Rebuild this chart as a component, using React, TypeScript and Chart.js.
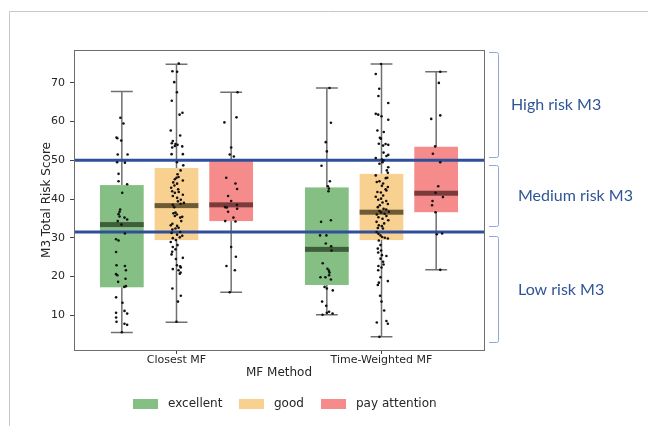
import { useEffect, useRef } from 'react';
import { Chart, registerables } from 'chart.js';

Chart.register(...registerables);

const categories = ['Closest MF', 'Time-Weighted MF'];
const hues = ['excellent', 'good', 'pay attention'];
const boxColors = ['#86bf84', '#f8d08f', '#f58b8b'];
const medianColors = ['#3e5d3b', '#6e5b36', '#7b3b3b'];

// per category: [excellent, good, pay attention]
const whiskerLow = [[5.5, 8.2, 15.9], [10.1, 4.4, 21.7]];
const q1Values = [[17.2, 29.4, 34.3], [17.8, 29.4, 36.6]];
const medianValues = [[33.4, 38.3, 38.5], [27.0, 36.6, 41.5]];
const q3Values = [[43.6, 48.0, 49.8], [43.0, 46.5, 53.5]];
const whiskerHigh = [[67.8, 74.8, 67.6], [68.7, 74.9, 72.9]];

const thresholds = [50, 31.5];
const riskLabels = ['High risk M3', 'Medium risk M3', 'Low risk M3'];
const riskRanges = [[78.1, 50.8], [48.9, 33.0], [30.4, 3.1]];

const yTicks = [10, 20, 30, 40, 50, 60, 70];

// [score, jitter]
const closestExcellent = [[61.0,-0.007],[59.5,0.008],[55.9,-0.026],[55.7,-0.022],[55.1,-0.003],[51.5,-0.02],[51.5,0.028],[49.5,-0.023],[49.4,0.015],[46.5,-0.016],[44.6,-0.016],[43.8,0.026],[41.6,0.002],[37.3,-0.008],[36.7,-0.011],[36.1,-0.016],[35.5,-0.011],[35.2,0.013],[34.7,0.026],[34.3,-0.02],[33.4,-0.002],[31.1,0.015],[29.6,-0.028],[29.3,-0.016],[26.3,-0.028],[22.9,-0.026],[22.7,0.015],[21.6,0.02],[20.6,-0.028],[20.3,-0.022],[19.4,0.018],[18.6,-0.018],[17.5,0.02],[17.3,0.012],[14.6,-0.028],[13.2,0.003],[11.1,0.013],[10.6,-0.028],[10.4,0.026],[9.4,-0.028],[8.3,-0.026],[7.8,0.013],[7.5,0.026],[5.6,0.0]];
const closestGood = [[75.0,0.011],[73.0,-0.020],[72.9,0.003],[70.2,-0.011],[67.6,0.002],[65.4,-0.023],[62.3,0.029],[61.8,0.015],[57.7,-0.028],[56.4,0.018],[54.96,-0.018],[54.4,-0.023],[54.2,-0.005],[54.0,0.005],[53.7,-0.008],[53.6,0.028],[53.3,-0.021],[51.6,-0.024],[51.6,0.031],[49.5,0.002],[48.7,0.033],[47.4,0.020],[46.4,0.005],[45.7,0.010],[45.5,0],[45.1,-0.008],[44.8,0.031],[44.3,-0.016],[43.97,0.003],[43.5,-0.010],[42.9,-0.026],[42.5,0.008],[42.0,-0.021],[41.8,0.011],[41.6,-0.008],[41.1,0.031],[40.8,-0.018],[40.3,0.003],[39.8,0.021],[39.4,0.007],[39.0,0.036],[38.8,0.020],[38.5,-0.018],[37.9,-0.011],[36.5,-0.005],[36.3,-0.015],[36.0,0.002],[35.6,-0.008],[35.4,0.028],[35.2,0.018],[34.3,0.023],[33.6,-0.020],[33.2,-0.028],[33.06,0.003],[32.6,0.010],[32.4,-0.005],[32.1,-0.020],[31.5,0.018],[31.25,-0.024],[30.8,0.003],[30.5,0.028],[30.1,0.016],[29.9,-0.018],[29.4,-0.003],[28.9,-0.028],[28.1,0.005],[27.6,-0.018],[27.0,-0.005],[26.4,-0.021],[25.7,-0.024],[24.8,0.031],[24.5,-0.003],[22.9,0.002],[22.6,0.018],[22.3,0.021],[21.9,-0.018],[21.6,0.010],[21.0,0.020],[20.7,0.016],[16.9,-0.020],[15.0,0.021],[13.5,0.007],[8.3,0.0]];
const closestAttention = [[67.6,0.031],[61.1,0.026],[59.8,-0.033],[53.3,0],[51.5,-0.007],[51.0,0.013],[45.5,-0.024],[44.0,0.021],[42.6,0.029],[40.8,-0.015],[39.5,0],[38.5,0.028],[37.9,-0.029],[37.8,-0.021],[37.5,0.029],[36.7,-0.015],[35.2,0.011],[34.3,-0.029],[34.2,0.021],[27.6,0],[25.1,0.023],[22.7,-0.023],[21.6,0.018],[15.9,-0.007]];
const weightedExcellent = [[68.7,0.013],[59.7,0.020],[54.7,-0.005],[52.3,0],[48.6,-0.026],[44.6,0.015],[43.3,0.005],[42.7,0.010],[42.0,0.008],[34.5,0.020],[34.1,-0.028],[30.6,-0.033],[30.6,-0.002],[28.5,-0.005],[27.8,0.021],[26.7,0.023],[23.4,-0.020],[22.0,0.003],[21.5,0.010],[21.0,0.013],[20.3,0.011],[19.8,-0.031],[19.8,-0.007],[19.2,0.020],[17.3,-0.011],[16.9,0],[16.4,0.029],[13.5,-0.023],[12.4,-0.003],[10.9,0.011],[10.6,0],[10.4,0.028],[10.1,-0.021]];
const weightedGood = [[74.9,-0.002],[72.3,-0.028],[68.5,-0.011],[66.6,-0.015],[64.8,0.033],[62.0,-0.028],[61.8,-0.016],[61.4,0],[60.5,0.033],[57.7,-0.020],[57.3,0.011],[55.8,-0.008],[55.6,-0.003],[54.3,-0.013],[54.2,0.020],[54.0,0.033],[53.8,0.008],[52.0,0.010],[51.4,0.033],[51.1,0.024],[50.6,-0.028],[50.2,0.002],[50.0,0.010],[49.5,0.005],[49.1,-0.010],[48.2,0.033],[47.4,0.026],[46.8,0.031],[46.1,-0.028],[45.5,0.028],[45.4,0.021],[44.6,-0.010],[44.4,-0.023],[44.0,0.008],[43.4,0.002],[43.1,0.031],[42.5,0.020],[42.2,0.024],[41.8,-0.020],[41.7,-0.003],[40.9,0.008],[40.6,-0.028],[40.1,-0.002],[39.8,-0.016],[39.5,0.023],[39.1,0.005],[38.7,0.031],[38.4,-0.008],[37.9,-0.018],[37.5,0.010],[37.3,0.023],[36.9,-0.010],[36.7,0.036],[36.5,-0.002],[36.2,0.015],[36.0,-0.023],[35.6,0.024],[35.3,-0.015],[34.9,0.005],[34.5,0.033],[34.1,-0.024],[33.7,0.013],[33.2,-0.013],[33.0,0.002],[32.5,-0.018],[32.4,0.007],[31.5,-0.024],[31.0,-0.015],[30.6,-0.005],[30.2,0.003],[30.0,0.016],[29.8,0.031],[29.3,-0.013],[28.1,-0.005],[27.2,-0.018],[26.7,-0.002],[26.2,-0.016],[25.5,0.002],[25.3,0.024],[24.6,-0.005],[23.8,0.008],[23.1,0.010],[22.7,-0.015],[22.3,0],[21.6,-0.016],[19.8,-0.005],[18.8,0.031],[18.4,-0.013],[17.8,-0.018],[15.0,-0.007],[13.5,0],[11.2,0.013],[8.5,0.024],[8.1,-0.023],[7.8,0.031],[4.4,-0.010]];
const weightedAttention = [[72.9,0.020],[70.0,0.013],[61.6,0.020],[60.7,-0.024],[53.6,-0.005],[51.7,-0.016],[49.5,0.020],[43.3,0.010],[41.6,-0.003],[40.5,0.033],[39.5,-0.018],[38.4,-0.020],[36.6,-0.003],[31.1,0.029],[30.9,0.003],[21.7,0.020]];

const pointGroups = [
  [closestExcellent, closestGood, closestAttention],
  [weightedExcellent, weightedGood, weightedAttention],
];

const DODGE = 0.8 / hues.length;
const hueCenter = (cat: number, hue: number) => cat + (hue - (hues.length - 1) / 2) * DODGE;

const FONT = "'DejaVu Sans', sans-serif";
const TEXT = '#262626';

const boxPlugin = {
  id: 'boxes',
  beforeDatasetsDraw(chart: any) {
    const { ctx, scales, chartArea } = chart;
    const x = scales.x;
    const y = scales.y;
    ctx.save();
    ctx.beginPath();
    ctx.rect(chartArea.left, chartArea.top, chartArea.right - chartArea.left, chartArea.bottom - chartArea.top);
    ctx.clip();
    categories.forEach((_, c) => {
      hues.forEach((__, h) => {
        const xc = hueCenter(c, h);
        const half = (DODGE * 0.8) / 2;
        const xl = x.getPixelForValue(xc - half);
        const xr = x.getPixelForValue(xc + half);
        const xm = x.getPixelForValue(xc);
        const capL = x.getPixelForValue(xc - half / 2);
        const capR = x.getPixelForValue(xc + half / 2);
        const lo = y.getPixelForValue(whiskerLow[c][h]);
        const hi = y.getPixelForValue(whiskerHigh[c][h]);
        const q1 = y.getPixelForValue(q1Values[c][h]);
        const q3 = y.getPixelForValue(q3Values[c][h]);
        const md = y.getPixelForValue(medianValues[c][h]);
        ctx.strokeStyle = '#707070';
        ctx.lineWidth = 1.5;
        ctx.beginPath();
        ctx.moveTo(xm, q3); ctx.lineTo(xm, hi);
        ctx.moveTo(xm, q1); ctx.lineTo(xm, lo);
        ctx.moveTo(capL, hi); ctx.lineTo(capR, hi);
        ctx.moveTo(capL, lo); ctx.lineTo(capR, lo);
        ctx.stroke();
        ctx.fillStyle = boxColors[h];
        ctx.fillRect(xl, q3, xr - xl, q1 - q3);
        ctx.fillStyle = medianColors[h];
        ctx.fillRect(xl, md - 2.5, xr - xl, 5);
      });
    });
    ctx.restore();
  },
  afterDraw(chart: any) {
    const { ctx, chartArea, scales } = chart;
    const y = scales.y;
    ctx.save();
    // outer frame of the picture
    ctx.strokeStyle = '#c8c8c8';
    ctx.lineWidth = 1;
    ctx.beginPath();
    ctx.moveTo(9.5, 426); ctx.lineTo(9.5, 11.5); ctx.lineTo(648, 11.5);
    ctx.stroke();
    // plot frame
    ctx.strokeStyle = '#6e6e6e';
    ctx.lineWidth = 1;
    ctx.strokeRect(Math.round(chartArea.left) + 0.5, Math.round(chartArea.top) + 0.5,
      Math.round(chartArea.right - chartArea.left), Math.round(chartArea.bottom - chartArea.top));
    // brackets and risk labels
    ctx.strokeStyle = '#8ea7d4';
    ctx.lineWidth = 1;
    ctx.fillStyle = '#2f5597';
    ctx.font = "16px 'Lato', 'Liberation Sans', sans-serif";
    ctx.textBaseline = 'middle';
    ctx.textAlign = 'left';
    const labelX = [511, 518, 518];
    riskRanges.forEach((r, i) => {
      const t = Math.round(y.getPixelForValue(r[0])) + 0.5;
      const b = Math.round(y.getPixelForValue(r[1])) + 0.5;
      const x0 = 489, x1 = 498.5;
      ctx.beginPath();
      ctx.moveTo(x0, t);
      ctx.lineTo(x1 - 2, t);
      ctx.quadraticCurveTo(x1, t, x1, t + 2);
      ctx.lineTo(x1, b - 2);
      ctx.quadraticCurveTo(x1, b, x1 - 2, b);
      ctx.lineTo(x0, b);
      ctx.stroke();
      ctx.fillText(riskLabels[i], labelX[i], (t + b) / 2);
    });
    // legend
    ctx.font = `12px ${FONT}`;
    ctx.fillStyle = TEXT;
    const swatchX = [133, 239, 321];
    hues.forEach((name, h) => {
      ctx.fillStyle = boxColors[h];
      ctx.fillRect(swatchX[h], 399, 25, 10);
      ctx.fillStyle = TEXT;
      ctx.fillText(name, swatchX[h] + 35, 404);
    });
    ctx.restore();
  },
};

export default function App() {
  const ref = useRef<HTMLCanvasElement>(null);
  useEffect(() => {
    document.body.style.margin = '0';
    const canvas = ref.current;
    if (!canvas) return;
    const datasets: any[] = [];
    thresholds.forEach((t) => {
      datasets.push({
        type: 'line',
        data: [{ x: -0.5, y: t }, { x: 1.5, y: t }],
        borderColor: '#2f4f9b',
        borderWidth: 3,
        pointRadius: 0,
        order: 2,
      });
    });
    pointGroups.forEach((group, c) => {
      group.forEach((pts, h) => {
        datasets.push({
          type: 'scatter',
          label: `${categories[c]} ${hues[h]}`,
          data: pts.map(([v, j]) => ({ x: hueCenter(c, h) + j, y: v })),
          backgroundColor: '#111111',
          borderWidth: 0,
          pointRadius: 1.3,
          order: 1,
        });
      });
    });
    const chart = new Chart(canvas, {
      type: 'scatter',
      data: { datasets },
      options: {
        responsive: false,
        animation: false,
        devicePixelRatio: 1,
        layout: { padding: { top: 50, right: 164, left: 0, bottom: 0 } },
        plugins: { legend: { display: false }, tooltip: { enabled: false } },
        scales: {
          x: {
            type: 'linear',
            min: -0.5,
            max: 1.5,
            afterBuildTicks: (s: any) => { s.ticks = [{ value: 0 }, { value: 1 }]; },
            afterFit: (s: any) => { s.height = 76; },
            ticks: {
              callback: (v: any) => categories[Math.round(Number(v))],
              font: { family: FONT, size: 11 },
              color: TEXT,
              padding: 0,
              maxRotation: 0,
            },
            grid: { drawOnChartArea: false, drawTicks: true, tickLength: 4, color: '#444' },
            border: { display: false },
            title: {
              display: true,
              text: 'MF Method',
              font: { family: FONT, size: 12 },
              color: TEXT,
              padding: { top: 0, bottom: 46 },
            },
          },
          y: {
            min: 1,
            max: 78.5,
            afterBuildTicks: (s: any) => { s.ticks = yTicks.map((v) => ({ value: v })); },
            afterFit: (s: any) => { s.width = 74; },
            ticks: { font: { family: FONT, size: 11 }, color: TEXT, padding: 5 },
            grid: { drawOnChartArea: false, drawTicks: true, tickLength: 4, color: '#444' },
            border: { display: false },
            title: {
              display: true,
              text: 'M3 Total Risk Score',
              font: { family: FONT, size: 12 },
              color: TEXT,
              padding: { top: 40, bottom: 0 },
            },
          },
        },
      },
      plugins: [boxPlugin],
    } as any);
    return () => chart.destroy();
  }, []);
  return <canvas ref={ref} width={648} height={426} style={{ display: 'block' }} />;
}
